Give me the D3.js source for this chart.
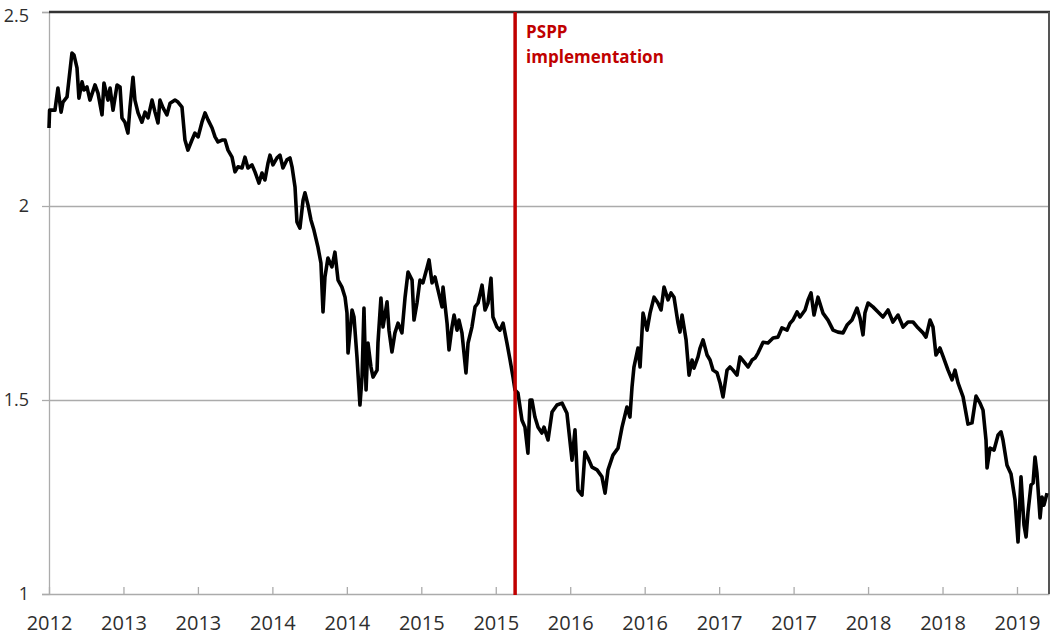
<!DOCTYPE html>
<html><head><meta charset="utf-8">
<script src="https://cdn.jsdelivr.net/npm/d3@7"></script>
<style>body{margin:0;background:#fff}svg{display:block}</style>
</head><body><svg id="c" width="1051" height="638"></svg>
<script>
// decimal year of each observation
const dates = [
2012.000,2012.004,2012.040,2012.060,2012.081,2012.094,2012.121,2012.154,2012.168,2012.188,
2012.201,2012.222,2012.235,2012.255,2012.275,2012.309,2012.329,2012.356,2012.369,2012.396,
2012.410,2012.430,2012.457,2012.477,2012.490,2012.510,2012.530,2012.544,2012.564,2012.577,
2012.598,2012.624,2012.645,2012.665,2012.692,2012.712,2012.732,2012.745,2012.766,2012.792,
2012.813,2012.846,2012.866,2012.893,2012.913,2012.933,2012.960,2012.980,2013.001,2013.027,
2013.048,2013.068,2013.095,2013.115,2013.135,2013.162,2013.182,2013.202,2013.229,2013.249,
2013.269,2013.296,2013.316,2013.336,2013.363,2013.383,2013.410,2013.430,2013.450,2013.471,
2013.484,2013.504,2013.531,2013.551,2013.571,2013.598,2013.618,2013.632,2013.652,2013.665,
2013.685,2013.706,2013.719,2013.739,2013.759,2013.779,2013.806,2013.826,2013.840,2013.853,
2013.873,2013.900,2013.920,2013.941,2013.967,2013.988,2014.001,2014.008,2014.035,2014.048,
2014.068,2014.088,2014.102,2014.115,2014.129,2014.142,2014.162,2014.176,2014.203,2014.209,
2014.229,2014.243,2014.270,2014.283,2014.303,2014.323,2014.344,2014.370,2014.391,2014.411,
2014.438,2014.451,2014.471,2014.491,2014.511,2014.538,2014.552,2014.572,2014.592,2014.612,
2014.639,2014.646,2014.673,2014.686,2014.706,2014.720,2014.740,2014.753,2014.773,2014.800,
2014.814,2014.840,2014.861,2014.881,2014.908,2014.928,2014.948,2014.968,2014.981,2015.008,
2015.028,2015.049,2015.075,2015.096,2015.116,2015.129,2015.149,2015.176,2015.196,2015.216,
2015.230,2015.243,2015.263,2015.284,2015.310,2015.324,2015.351,2015.378,2015.411,2015.445,
2015.478,2015.512,2015.532,2015.552,2015.579,2015.599,2015.619,2015.646,2015.680,2015.713,
2015.734,2015.754,2015.787,2015.821,2015.848,2015.881,2015.901,2015.915,2015.928,2015.955,
2015.969,2015.989,2016.016,2016.036,2016.063,2016.089,2016.110,2016.130,2016.157,2016.177,
2016.197,2016.224,2016.237,2016.251,2016.278,2016.298,2016.318,2016.331,2016.358,2016.372,
2016.392,2016.419,2016.439,2016.459,2016.486,2016.506,2016.526,2016.553,2016.573,2016.593,
2016.620,2016.640,2016.674,2016.694,2016.721,2016.741,2016.761,2016.795,2016.828,2016.862,
2016.895,2016.922,2016.956,2016.976,2016.996,2017.023,2017.043,2017.077,2017.097,2017.117,
2017.137,2017.164,2017.197,2017.231,2017.265,2017.298,2017.332,2017.359,2017.392,2017.426,
2017.446,2017.466,2017.479,2017.500,2017.533,2017.567,2017.600,2017.634,2017.667,2017.701,
2017.735,2017.768,2017.802,2017.835,2017.869,2017.889,2017.916,2017.936,2017.956,2017.983,
2018.003,2018.037,2018.064,2018.084,2018.104,2018.138,2018.171,2018.198,2018.225,2018.252,
2018.272,2018.292,2018.299,2018.319,2018.346,2018.373,2018.393,2018.406,2018.433,2018.460,
2018.487,2018.507,2018.527,2018.547,2018.561,2018.574,2018.594,2018.608,2018.621,2018.634,
2018.655,2018.668,2018.681,2018.702
];
const values = [
2.201,2.247,2.247,2.304,2.242,2.268,2.281,2.394,2.389,2.356,
2.278,2.320,2.299,2.307,2.273,2.312,2.291,2.235,2.317,2.273,
2.304,2.247,2.312,2.307,2.227,2.216,2.188,2.255,2.332,2.273,
2.240,2.216,2.242,2.227,2.273,2.242,2.214,2.273,2.253,2.235,
2.265,2.273,2.268,2.255,2.170,2.144,2.170,2.188,2.178,2.216,
2.240,2.222,2.201,2.178,2.165,2.170,2.170,2.144,2.126,2.088,
2.101,2.098,2.126,2.098,2.106,2.088,2.059,2.085,2.067,2.111,
2.131,2.106,2.124,2.131,2.098,2.119,2.124,2.101,2.049,1.959,
1.943,2.015,2.034,2.003,1.964,1.938,1.894,1.853,1.727,1.817,
1.866,1.843,1.881,1.809,1.791,1.765,1.724,1.621,1.732,1.714,
1.611,1.487,1.559,1.737,1.526,1.647,1.585,1.559,1.577,1.647,
1.763,1.688,1.753,1.680,1.624,1.673,1.698,1.673,1.765,1.830,
1.809,1.706,1.750,1.809,1.802,1.840,1.861,1.802,1.817,1.784,
1.740,1.791,1.698,1.629,1.688,1.719,1.680,1.706,1.673,1.570,
1.647,1.688,1.740,1.750,1.796,1.732,1.750,1.814,1.714,1.688,
1.680,1.698,1.647,1.603,1.559,1.526,1.518,1.448,1.430,1.363,
1.500,1.500,1.456,1.430,1.415,1.430,1.397,1.469,1.487,1.492,
1.466,1.345,1.423,1.268,1.255,1.366,1.351,1.327,1.320,1.302,
1.260,1.320,1.358,1.376,1.430,1.482,1.456,1.534,1.585,1.634,
1.585,1.724,1.680,1.724,1.765,1.750,1.732,1.791,1.758,1.776,
1.765,1.698,1.675,1.719,1.655,1.564,1.603,1.582,1.611,1.634,
1.655,1.616,1.603,1.577,1.570,1.544,1.508,1.577,1.585,1.577,
1.564,1.611,1.595,1.585,1.603,1.608,1.621,1.649,1.647,1.660,
1.662,1.686,1.680,1.698,1.706,1.727,1.714,1.732,1.758,1.776,
1.719,1.765,1.724,1.706,1.680,1.675,1.673,1.693,1.706,1.737,
1.711,1.668,1.724,1.750,1.740,1.727,1.714,1.732,1.701,1.719,
1.688,1.701,1.701,1.686,1.673,1.662,1.706,1.688,1.616,1.634,
1.613,1.577,1.552,1.577,1.544,1.508,1.438,1.441,1.510,1.492,
1.474,1.397,1.325,1.376,1.371,1.410,1.418,1.397,1.332,1.309,
1.242,1.134,1.302,1.178,1.147,1.211,1.281,1.286,1.353,1.312,
1.196,1.250,1.229,1.260
];
const yTicks = [1, 1.5, 2, 2.5];
const yTickLabels = ["1", "1.5", "2", "2.5"];
const xTicks = [2012, 2012.5, 2013, 2013.5, 2014, 2014.5, 2015, 2015.5, 2016, 2016.5, 2017, 2017.5, 2018, 2018.5];
const xTickLabels = ["2012","2013","2013","2014","2014","2015","2015","2016","2016","2017","2017","2018","2018","2019"];
const xDomain = [2012, 2018.715];
const yDomain = [1, 2.5];
const psppDate = 2015.13;
const psppLabel = ["PSPP", "implementation"];

const svg = d3.select("#c");
const L = 49, R = 1049, T = 12, B = 594;
const x = d3.scaleLinear().domain(xDomain).range([L, R]);
const y = d3.scaleLinear().domain(yDomain).range([B, T]);
const font = "'Open Sans', 'DejaVu Sans', sans-serif";
const grey = "#ababab";

// horizontal gridlines (axis with long inner ticks)
const gGrid = svg.append("g").attr("transform", `translate(${L},0)`)
  .call(d3.axisRight(y).tickValues(yTicks.filter(v => v > yDomain[0] && v < yDomain[1])).tickSize(R - L).tickFormat(""));
gGrid.select(".domain").remove();
gGrid.selectAll("line").attr("stroke", grey).attr("stroke-width", 1.3);

// left axis with stubs and labels
const gY = svg.append("g").attr("transform", `translate(${L},0)`)
  .call(d3.axisLeft(y).tickValues(yTicks).tickSize(7).tickPadding(13)
    .tickFormat((d, i) => yTickLabels[i]));
gY.select(".domain").attr("stroke", grey).attr("stroke-width", 1.3);
gY.selectAll("line").attr("stroke", grey).attr("stroke-width", 1.3);
gY.selectAll("text").attr("font-family", font).attr("font-size", 18).attr("fill", "#2e2e2e");
gY.selectAll(".tick").filter(d => d === yDomain[1]).select("text").attr("dy", "0.5em");

// bottom axis with inward ticks
const gX = svg.append("g").attr("transform", `translate(0,${B})`)
  .call(d3.axisBottom(x).tickValues(xTicks).tickSize(-7).tickSizeOuter(0).tickPadding(22)
    .tickFormat((d, i) => xTickLabels[i]));
gX.select(".domain").attr("stroke", grey).attr("stroke-width", 1.3);
gX.selectAll("line").attr("stroke", grey).attr("stroke-width", 1.3);
gX.selectAll("text").attr("font-family", font).attr("font-size", 20).attr("fill", "#2e2e2e");

// top and right borders
svg.append("line").attr("x1", L).attr("x2", R + 1).attr("y1", y(yDomain[1])).attr("y2", y(yDomain[1]))
  .attr("stroke", "#333").attr("stroke-width", 2.6);
svg.append("line").attr("x1", x(xDomain[1])).attr("x2", x(xDomain[1])).attr("y1", T).attr("y2", B)
  .attr("stroke", "#555").attr("stroke-width", 2);

// series
const series = dates.map((d, i) => ({ d, v: values[i] }));
svg.append("path").datum(series)
  .attr("fill", "none").attr("stroke", "#000").attr("stroke-width", 3.6)
  .attr("stroke-linejoin", "round")
  .attr("d", d3.line().x(p => x(p.d)).y(p => y(p.v)));

// PSPP marker
svg.append("line").attr("x1", x(psppDate)).attr("x2", x(psppDate)).attr("y1", T).attr("y2", B + 1)
  .attr("stroke", "#c00000").attr("stroke-width", 3.5);
svg.append("g").selectAll("text").data(psppLabel).join("text")
  .attr("x", x(psppDate) + 11).attr("y", (d, i) => 38 + i * 25)
  .attr("font-family", font).attr("font-weight", "bold").attr("font-size", 17)
  .attr("fill", "#c00000").text(d => d);
</script></body></html>
